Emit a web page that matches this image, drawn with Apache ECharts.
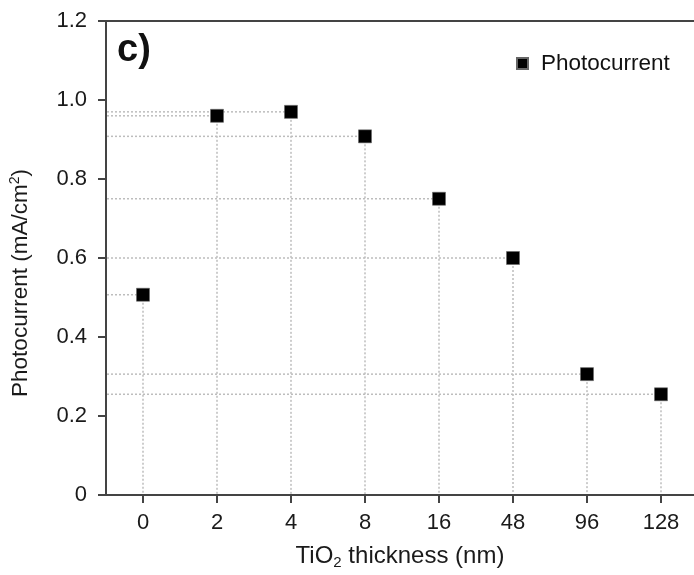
<!DOCTYPE html>
<html><head><meta charset="utf-8">
<script src="https://cdn.jsdelivr.net/npm/echarts@6/dist/echarts.min.js"></script>
<style>html,body{margin:0;padding:0;background:#fff}#c{width:694px;height:575px}</style>
</head><body><div id="c"></div>
<script>
const categories = ['0', '2', '4', '8', '16', '48', '96', '128'];
const photocurrent = [0.507, 0.96, 0.97, 0.908, 0.75, 0.60, 0.306, 0.255];
const yTicks = [0, 0.2, 0.4, 0.6, 0.8, 1.0, 1.2];

const FONT = 'Liberation Sans';
const catIdx = categories.map((c, i) => i);
const chart = echarts.init(document.getElementById('c'));
chart.setOption({
  animation: false,
  textStyle: { fontFamily: FONT },
  title: { text: 'c)', left: 112, top: 27, textStyle: { fontFamily: FONT, fontSize: 38, fontWeight: 'bold', color: '#111' } },
  legend: {
    data: ['Photocurrent'], left: 511, top: 47, icon: 'rect', itemWidth: 11, itemHeight: 11,
    textStyle: { fontFamily: FONT, fontSize: 22.5, color: '#111', padding: [0, 0, 0, 8] }
  },
  grid: { left: 106, top: 21, right: 0, bottom: 78 },
  xAxis: [{
    type: 'value', min: -0.5, max: -0.5 + 588 / 74,
    splitLine: { show: false },
    axisLine: { onZero: false, lineStyle: { color: '#444', width: 2 } },
    axisTick: { length: 8, customValues: catIdx, lineStyle: { color: '#444', width: 2 } },
    axisLabel: { fontSize: 22, color: '#1a1a1a', margin: 17, fontFamily: FONT, customValues: catIdx,
      formatter: v => categories[Math.round(v)] },
    name: '{a|TiO}{s|2}{a| thickness (nm)}', nameLocation: 'middle', nameGap: 47,
    nameTextStyle: { rich: { a: { fontSize: 24, color: '#1a1a1a', fontFamily: FONT }, s: { fontSize: 15, color: '#1a1a1a', fontFamily: FONT, padding: [13, 0, 0, 0] } } }
  }, {
    type: 'value', min: -0.5, max: -0.5 + 588 / 74, position: 'top',
    splitLine: { show: false },
    axisLine: { onZero: false, lineStyle: { color: '#444', width: 2 } }, axisTick: { show: false }, axisLabel: { show: false }
  }],
  yAxis: {
    type: 'value', min: 0, max: 1.2, interval: 0.2,
    axisLine: { show: true, onZero: false, lineStyle: { color: '#444', width: 2 } },
    axisTick: { show: true, length: 8, lineStyle: { color: '#444', width: 2 } },
    splitLine: { show: false },
    axisLabel: { fontSize: 22, color: '#1a1a1a', margin: 19, fontFamily: FONT,
      formatter: v => { const t = yTicks.find(x => Math.abs(x - v) < 1e-9); return t === 0 ? '0' : t.toFixed(1); } },
    name: '{a|Photocurrent (mA/cm}{s|2}{a|)}', nameLocation: 'middle', nameGap: 72,
    nameTextStyle: { padding: [0, 50, 0, 0], rich: { a: { fontSize: 22.5, color: '#1a1a1a', fontFamily: FONT }, s: { fontSize: 14, color: '#1a1a1a', fontFamily: FONT, padding: [0, 0, 12, 0] } } }
  },
  series: [{
    type: 'custom', silent: true, z: 1,
    data: photocurrent.map((v, i) => [i, v]),
    renderItem: (params, api) => {
      const p = api.coord([api.value(0), api.value(1)]);
      const base = api.coord([api.value(0), 0]);
      const cs = params.coordSys;
      const st = { stroke: '#bdbdbd', lineWidth: 1.5, lineDash: [2, 2] };
      return { type: 'group', children: [
        { type: 'line', shape: { x1: cs.x + 1, y1: p[1], x2: p[0], y2: p[1] }, style: st },
        { type: 'line', shape: { x1: p[0], y1: p[1], x2: base[0], y2: base[1] - 1 }, style: st }
      ] };
    }
  }, {
    name: 'Photocurrent', type: 'scatter', symbol: 'rect', symbolSize: 13, z: 3,
    data: photocurrent.map((v, i) => [i, v]),
    itemStyle: { color: '#000', opacity: 1, borderColor: '#666', borderWidth: 0.6 }
  }]
});
</script></body></html>
